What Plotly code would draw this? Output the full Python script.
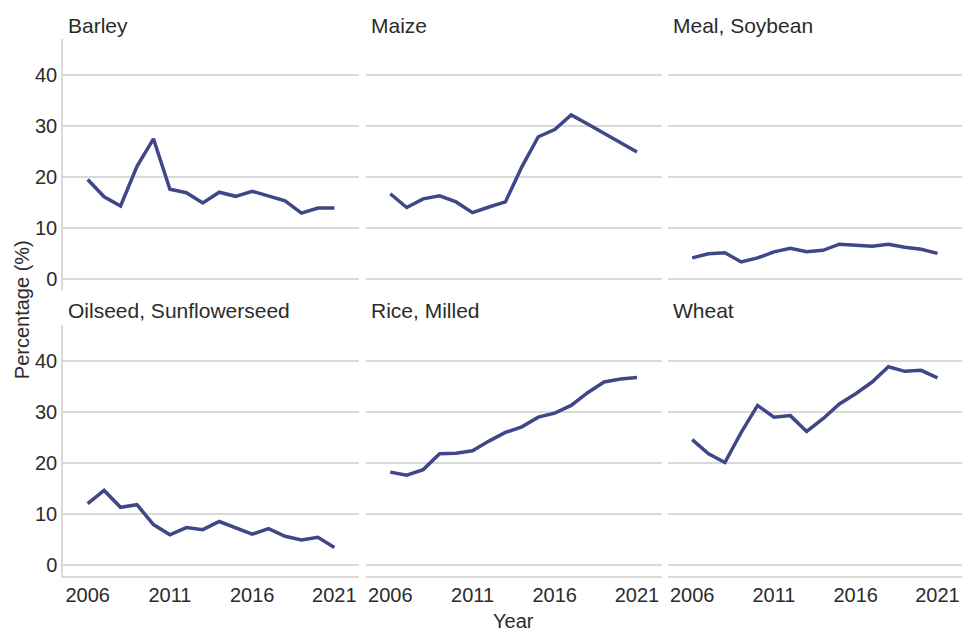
import plotly.graph_objects as go
from plotly.subplots import make_subplots

years = list(range(2006, 2022))

barley = [19.5, 16.1, 14.3, 22.1, 27.5, 17.6, 16.9, 14.9, 17.0, 16.2, 17.2, 16.2, 15.3, 12.9, 13.9, 13.9]
maize = [16.7, 14.0, 15.7, 16.3, 15.1, 13.0, 14.1, 15.1, 22.0, 27.9, 29.3, 32.2, 30.4, 28.6, 26.8, 24.9]
meal_soybean = [4.1, 4.9, 5.1, 3.3, 4.1, 5.3, 6.0, 5.3, 5.6, 6.8, 6.6, 6.4, 6.8, 6.2, 5.8, 5.0]
oilseed_sunflower = [12.0, 14.6, 11.3, 11.8, 7.9, 5.9, 7.3, 6.9, 8.5, 7.3, 6.0, 7.1, 5.6, 4.9, 5.4, 3.4]
rice_milled = [18.2, 17.6, 18.7, 21.8, 21.9, 22.4, 24.3, 26.0, 27.1, 29.0, 29.8, 31.3, 33.8, 35.9, 36.5, 36.8]
wheat = [24.6, 21.8, 20.1, 26.0, 31.3, 29.0, 29.3, 26.2, 28.7, 31.6, 33.6, 35.9, 38.9, 38.0, 38.2, 36.7]

panels = [
    ("Barley", barley),
    ("Maize", maize),
    ("Meal, Soybean", meal_soybean),
    ("Oilseed, Sunflowerseed", oilseed_sunflower),
    ("Rice, Milled", rice_milled),
    ("Wheat", wheat),
]

LINE = "#3f4788"
GRID = "#d9d9d9"
TEXT = "#2b2b2b"
FONT = "Liberation Sans, Arial, sans-serif"

fig = make_subplots(rows=2, cols=3, shared_xaxes=True, shared_yaxes=True)

x_domains = [[0.0, 0.3293], [0.3366, 0.6659], [0.6726, 1.0]]
y_domains = [[0.5326, 1.0], [0.0, 0.4674]]

for i, (name, vals) in enumerate(panels):
    r, c = i // 3 + 1, i % 3 + 1
    fig.add_trace(go.Scatter(
        x=years, y=vals, mode="lines",
        line=dict(color=LINE, width=3.5),
        name=name, showlegend=False,
    ), row=r, col=c)
    fig.update_xaxes(
        domain=x_domains[c - 1], range=[2004.5, 2022.5],
        tickvals=[2006, 2011, 2016, 2021],
        showticklabels=(r == 2),
        showgrid=False, zeroline=False,
        showline=(r == 2), linecolor=GRID, linewidth=1.5,
        ticks="", ticklabelstandoff=0,
        tickfont=dict(size=20, color=TEXT),
        row=r, col=c,
    )
    fig.update_yaxes(
        domain=y_domains[r - 1], range=[-2.2, 47.1],
        tickvals=[0, 10, 20, 30, 40],
        showticklabels=(c == 1),
        showgrid=True, gridcolor=GRID, gridwidth=1.5,
        zeroline=False,
        showline=(c == 1), linecolor=GRID, linewidth=1.5,
        ticks="", ticklabelstandoff=0,
        tickfont=dict(size=20, color=TEXT),
        row=r, col=c,
    )
    xd = x_domains[c - 1][0]
    fig.add_annotation(
        text=name, xref="paper", yref="paper",
        x=xd + 3 / 899, y=1.026 if r == 1 else 0.4935,
        xanchor="left", yanchor="middle", showarrow=False,
        font=dict(size=21, color=TEXT, family=FONT),
    )

fig.add_annotation(
    text="Year", xref="paper", yref="paper", x=0.5006, y=-0.084,
    xanchor="center", yanchor="middle", showarrow=False,
    font=dict(size=20, color=TEXT, family=FONT),
)
fig.add_annotation(
    text="Percentage (%)", xref="paper", yref="paper", x=-0.0456, y=0.495,
    xanchor="center", yanchor="middle", textangle=-90, showarrow=False,
    font=dict(size=20, color=TEXT, family=FONT),
)

fig.update_layout(
    width=962, height=631,
    margin=dict(l=63, r=0, t=39, b=55),
    paper_bgcolor="white", plot_bgcolor="white",
    font=dict(family=FONT, size=20, color=TEXT),
)

fig.write_html("out.html", config={"displayModeBar": False},
               post_script="document.body.style.margin='0';")
